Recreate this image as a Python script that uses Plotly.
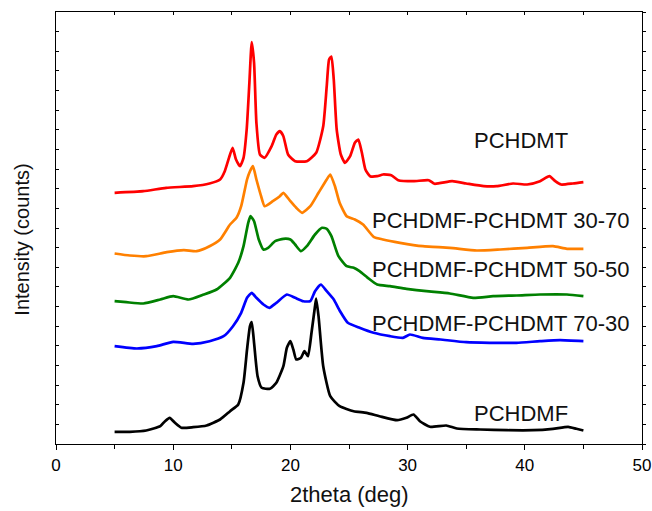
import plotly.graph_objects as go

# ---------------- data (2theta in deg, intensity in counts, offset as plotted) ----------------
pchdmt_x = [5.0, 7.45, 9.4, 11.7, 13.1, 14.0, 14.4, 14.85, 15.07, 15.36, 15.7, 16.0, 16.27, 16.5, 16.7,
            16.9, 17.1, 17.4, 17.8, 18.4, 18.8, 19.1, 19.4, 19.8, 20.4, 21.4, 22.2, 22.8, 23.1, 23.3,
            23.5, 23.7, 23.95, 24.3, 24.66, 25.1, 25.5, 25.8, 26.1, 26.4, 26.8, 27.4, 27.9, 28.6, 29.2,
            30.5, 31.8, 32.3, 33.8, 35.0, 36.5, 37.6, 39.0, 40.2, 41.3, 42.1, 42.6, 43.1, 44.1, 45.0]
pchdmt_y = [2512, 2528, 2562, 2578, 2605, 2645, 2728, 2895, 2962, 2845, 2778, 2862, 3145, 3612, 4020,
            3812, 3212, 2895, 2862, 2978, 3095, 3128, 3078, 2895, 2828, 2828, 2912, 3178, 3578, 3845,
            3875, 3645, 3145, 2895, 2812, 2878, 3012, 3045, 2912, 2745, 2678, 2678, 2695, 2688, 2638,
            2628, 2638, 2602, 2628, 2605, 2578, 2578, 2605, 2595, 2628, 2678, 2628, 2595, 2605, 2618]

b3070_x = [5.0, 6.3, 7.7, 9.45, 10.9, 12.0, 13.1, 14.0, 14.85, 15.4, 15.8, 16.3, 16.55, 16.8, 17.1,
           17.5, 17.8, 18.5, 19.1, 19.4, 20.0, 20.5, 21.0, 21.7, 22.4, 23.1, 23.4, 23.8, 24.2, 24.8,
           25.5, 26.2, 27.1, 27.9, 29.35, 31.3, 33.6, 35.9, 37.9, 40.2, 42.4, 43.6, 45.0]
b3070_y = [1905, 1885, 1878, 1918, 1938, 1928, 1978, 2045, 2195, 2262, 2378, 2645, 2728, 2778, 2645,
           2478, 2378, 2428, 2478, 2512, 2428, 2362, 2312, 2378, 2512, 2645, 2695, 2578, 2412, 2278,
           2245, 2195, 2072, 2045, 2012, 1978, 1962, 1935, 1945, 1962, 1978, 1952, 1952]

b5050_x = [5.0, 6.0, 7.45, 8.9, 10.0, 11.3, 12.6, 13.7, 14.85, 15.55, 16.0, 16.4, 16.6, 16.9, 17.3,
           17.7, 18.1, 18.7, 19.4, 20.0, 20.4, 20.9, 21.4, 22.1, 22.7, 23.1, 23.5, 24.1, 24.8, 25.4,
           25.9, 26.6, 27.4, 28.5, 29.9, 31.6, 33.6, 35.6, 37.3, 39.3, 41.3, 43.6, 45.0]
b5050_y = [1428, 1418, 1405, 1445, 1478, 1445, 1495, 1545, 1662, 1812, 1978, 2212, 2278, 2228, 2045,
           1945, 1962, 2028, 2052, 2045, 1995, 1928, 1978, 2095, 2162, 2152, 2078, 1878, 1778, 1762,
           1728, 1662, 1595, 1578, 1552, 1528, 1505, 1462, 1478, 1485, 1495, 1495, 1478]

b7030_x = [5.0, 6.9, 8.6, 10.0, 11.7, 13.1, 14.3, 15.1, 15.8, 16.3, 16.7, 17.1, 17.7, 18.2, 18.8,
           19.7, 20.4, 21.1, 21.7, 22.1, 22.6, 23.1, 23.7, 24.2, 24.9, 25.9, 27.1, 28.5, 29.6, 30.2,
           31.3, 32.8, 35.0, 37.0, 39.3, 41.3, 43.0, 45.0]
b7030_y = [978, 955, 978, 1022, 1002, 1028, 1078, 1178, 1312, 1462, 1512, 1462, 1395, 1362, 1412,
           1495, 1462, 1428, 1428, 1528, 1595, 1528, 1445, 1335, 1212, 1162, 1112, 1078, 1062, 1095,
           1062, 1045, 1018, 1012, 1012, 1028, 1038, 1028]

pchdmf_x = [5.0, 6.3, 7.7, 8.9, 9.3, 9.7, 10.15, 10.7, 11.7, 12.85, 14.0, 14.85, 15.55, 16.0, 16.3,
            16.55, 16.7, 16.9, 17.2, 17.55, 18.25, 18.8, 19.4, 19.7, 20.0, 20.25, 20.5, 20.9, 21.2,
            21.5, 21.8, 22.1, 22.2, 22.4, 22.8, 23.4, 24.2, 25.4, 26.5, 27.6, 29.1, 29.9, 30.5, 31.05,
            31.9, 33.3, 34.2, 36.2, 38.5, 40.7, 42.4, 43.7, 44.4, 45.0]
pchdmf_y = [122, 122, 135, 178, 228, 262, 212, 162, 168, 185, 245, 328, 395, 612, 945,
            1178, 1218, 1012, 678, 562, 552, 612, 778, 962, 1028, 945, 845, 862, 928,
            878, 1112, 1378, 1455, 1278, 778, 478, 378, 328, 312, 278, 238, 262, 295, 228,
            172, 185, 155, 145, 138, 138, 152, 172, 152, 135]

series_names = ["PCHDMT", "PCHDMF-PCHDMT 30-70", "PCHDMF-PCHDMT 50-50",
                "PCHDMF-PCHDMT 70-30", "PCHDMF"]
series_x = [pchdmt_x, b3070_x, b5050_x, b7030_x, pchdmf_x]
series_y = [pchdmt_y, b3070_y, b5050_y, b7030_y, pchdmf_y]
series_colors = ["#FF0000", "#FF8000", "#008000", "#0000FF", "#000000"]

# label anchor (2theta, counts)
label_pos = [(39.7, 3040), (38.0, 2240), (38.0, 1750), (38.0, 1205), (39.7, 310)]

x_title = "2theta (deg)"
y_title = "Intensity (counts)"
y_max = 4320

# ---------------- figure ----------------
fig = go.Figure()
for name, xs, ys, col in zip(series_names, series_x, series_y, series_colors):
    fig.add_trace(go.Scatter(x=xs, y=ys, mode="lines", name=name,
                             line=dict(color=col, width=2.7, shape="spline", smoothing=0.5),
                             showlegend=False, hoverinfo="skip"))

# dummy trace to hold the mirrored top/right axes
fig.add_trace(go.Scatter(x=[None], y=[None], xaxis="x2", yaxis="y2",
                         showlegend=False, hoverinfo="skip"))

font_family = "Liberation Sans, Arial, sans-serif"

for name, (lx, ly) in zip(series_names, label_pos):
    fig.add_annotation(x=lx, y=ly, text=name, showarrow=False, xref="x", yref="y",
                       xanchor="center", yanchor="middle",
                       font=dict(family=font_family, size=22, color="#111111"))

# axis titles as free text
fig.add_annotation(x=-0.058, y=0.473, xref="paper", yref="paper", text=y_title,
                   textangle=-90, showarrow=False, xanchor="center", yanchor="middle",
                   font=dict(family=font_family, size=20, color="#111111"))
fig.add_annotation(x=0.5, y=-0.118, xref="paper", yref="paper", text=x_title,
                   showarrow=False, xanchor="center", yanchor="middle",
                   font=dict(family=font_family, size=22, color="#111111"))

axis_common = dict(showgrid=False, zeroline=False, showline=True, automargin=False,
                   linecolor="black", linewidth=1.4, tickcolor="black")

fig.update_layout(
    width=652, height=511,
    margin=dict(l=56, r=10, t=12, b=67),
    paper_bgcolor="white", plot_bgcolor="white",
    font=dict(family=font_family, color="black"),
    xaxis=dict(range=[0, 50], tick0=0, dtick=10, ticks="outside", ticklen=5, tickwidth=1.2,
               minor=dict(tick0=0, dtick=5, ticks="outside", ticklen=4, tickwidth=1.2, tickcolor="black"),
               tickfont=dict(size=17), anchor="y", **axis_common),
    yaxis=dict(range=[0, y_max], tick0=0, dtick=y_max / 22, ticks="inside", ticklen=3, tickwidth=1,
               showticklabels=False, anchor="x", **axis_common),
    xaxis2=dict(range=[0, 50], tick0=0, dtick=5, ticks="inside", ticklen=3, tickwidth=1,
                showticklabels=False, overlaying="x", side="top", anchor="y2", **axis_common),
    yaxis2=dict(range=[0, y_max], tick0=0, dtick=y_max / 22, ticks="outside", ticklen=3, tickwidth=1,
                showticklabels=False, overlaying="y", side="right", anchor="x2", **axis_common),
)

fig.write_html("out.html")
